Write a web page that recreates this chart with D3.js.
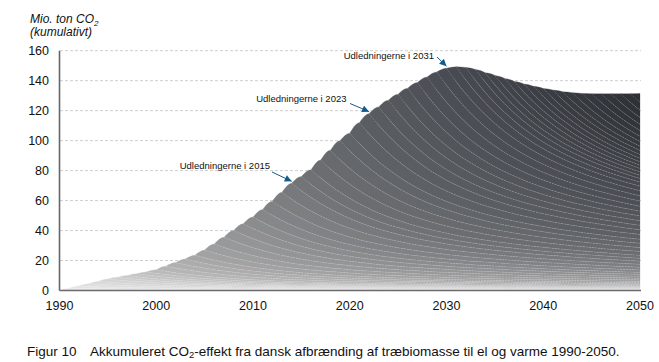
<!DOCTYPE html>
<html>
<head>
<meta charset="utf-8">
<script src="https://cdn.jsdelivr.net/npm/d3@7"></script>
<style>
  body { margin: 0; background: #fff; }
  svg { display: block; font-family: "Liberation Sans", Arial, sans-serif; }
</style>
</head>
<body>
<svg id="chart" width="659" height="362"></svg>
<script>
// years on the x axis
const years = d3.range(1990, 2051);

// top of the stack, mio. ton CO2
const total = [
  0, 1.5, 3, 4.5, 6, 7.6, 8.8, 10, 11.2, 12.4,
  13.8, 16.2, 18.6, 21, 23.5, 27, 31, 35.5, 40, 44.5,
  49, 54, 59.5, 65.5, 71.5, 76, 80.5, 87, 93.5, 100,
  105, 112, 118, 122.5, 127, 131, 135, 138.8, 142.5, 145.8,
  148.3, 149.3, 148.8, 147.5, 145.3, 143.5, 141.5, 139.5, 137.8, 136.2,
  134.8, 133.7, 132.6, 132, 131.5, 131.3, 131.2, 131.2, 131.3, 131.3,
  131.5
];

// share of one year's emission still counted n years later (estimated)
const remaining = [
  1, 0.92, 0.85, 0.785, 0.725, 0.67, 0.62, 0.575, 0.535, 0.5, 0.47,
  0.445, 0.42, 0.4, 0.38, 0.362, 0.346, 0.332, 0.32, 0.308, 0.297,
  0.287, 0.278, 0.27, 0.262, 0.255, 0.248, 0.242, 0.236, 0.23, 0.225,
  0.22, 0.215, 0.21, 0.206, 0.202, 0.198, 0.194, 0.19, 0.186, 0.183,
  0.18, 0.177, 0.174, 0.171, 0.168, 0.165, 0.162, 0.159, 0.157, 0.155,
  0.153, 0.151, 0.149, 0.147, 0.145, 0.143, 0.141, 0.139, 0.137, 0.135
];

const yTicks = [0, 20, 40, 60, 80, 100, 120, 140, 160];
const xTicks = [1990, 2000, 2010, 2020, 2030, 2040, 2050];

const notes = [
  { year: 2015, text: "Udledningerne i 2015", tx: 270, ty: 168.5, sx: 272, sy: 172 },
  { year: 2023, text: "Udledningerne i 2023", tx: 346.5, ty: 102, sx: 350, sy: 103.5 },
  { year: 2031, text: "Udledningerne i 2031", tx: 434, ty: 59, sx: 437, sy: 57 }
];

const svg = d3.select("#chart");

const x = d3.scaleLinear().domain([1990, 2050]).range([59.5, 640]);
const y = d3.scaleLinear().domain([0, 160]).range([290.5, 50.7]);

// new emission per year so that the stack adds up to the total
const emission = [];
years.forEach((t, i) => {
  let carried = 0;
  for (let j = 0; j < i; j++) carried += emission[j] * remaining[i - j];
  emission.push(Math.max(0, total[i] - carried));
});

const rows = years.map((t, i) => {
  const row = { year: t };
  years.forEach((s, j) => {
    row[s] = j <= i ? emission[j] * remaining[i - j] : 0;
  });
  return row;
});

const series = d3.stack().keys(years)(rows);

const color = d3.scaleLinear()
  .domain([1990, 1995, 2000, 2005, 2010, 2015, 2022, 2031, 2050])
  .range(["#eeeeee", "#d4d4d4", "#bababa", "#a2a2a3", "#8b8c8e", "#727477", "#5a5d62", "#474a50", "#2d3035"]);

// dashed grid
svg.append("g")
  .selectAll("line")
  .data(yTicks.filter(d => d > 0))
  .join("line")
    .attr("x1", 60).attr("x2", 641)
    .attr("y1", d => y(d)).attr("y2", d => y(d))
    .attr("stroke", "#cfcfcf")
    .attr("stroke-dasharray", "3 2");

const area = d3.area()
  .x(d => x(d.data.year))
  .y0(d => y(d[0]))
  .y1(d => y(d[1]))
  .curve(d3.curveMonotoneX);

// each layer only from the year before it starts
const layers = series.map(s => {
  const pts = s.filter(d => d.data.year >= s.key - 1);
  pts.key = s.key;
  return pts;
});

svg.append("g")
  .selectAll("path")
  .data(layers)
  .join("path")
    .attr("d", area)
    .attr("fill", d => color(d.key))
    .attr("stroke", d => color(d.key))
    .attr("stroke-width", 0.25);

// thin light line on top of each year's layer
const topLine = d3.line()
  .x(d => x(d.data.year))
  .y(d => y(d[1]))
  .curve(d3.curveMonotoneX);

svg.append("g")
  .selectAll("path")
  .data(layers.slice(0, -1).map(s => s.filter(d => d.data.year >= s.key)))
  .join("path")
    .attr("d", topLine)
    .attr("fill", "none")
    .attr("stroke", "#ffffff")
    .attr("stroke-opacity", 0.32)
    .attr("stroke-width", 0.6)
    .attr("stroke-dasharray", "2 1");

// axes
svg.append("line")
  .attr("x1", 59.5).attr("x2", 59.5)
  .attr("y1", y(160)).attr("y2", y(0))
  .attr("stroke", "#666").attr("stroke-width", 1.6);

svg.append("line")
  .attr("x1", 59.5).attr("x2", 641)
  .attr("y1", y(0)).attr("y2", y(0))
  .attr("stroke", "#6b6b6b").attr("stroke-width", 1.6);

svg.append("g")
  .selectAll("text")
  .data(yTicks)
  .join("text")
    .attr("x", 49)
    .attr("y", d => y(d) + 4.5)
    .attr("text-anchor", "end")
    .attr("font-size", 12.5)
    .attr("fill", "#111")
    .text(d => d);

svg.append("g")
  .selectAll("text")
  .data(xTicks)
  .join("text")
    .attr("x", d => x(d))
    .attr("y", 310)
    .attr("text-anchor", "middle")
    .attr("font-size", 12.5)
    .attr("fill", "#111")
    .text(d => d);

// y axis title
const title = svg.append("text")
  .attr("x", 30).attr("y", 23)
  .attr("font-size", 12)
  .attr("font-style", "italic")
  .attr("fill", "#111");
title.append("tspan").text("Mio. ton CO");
title.append("tspan").attr("font-size", 8).attr("dy", 3).text("2");

svg.append("text")
  .attr("x", 30).attr("y", 36)
  .attr("font-size", 12)
  .attr("font-style", "italic")
  .attr("fill", "#111")
  .text("(kumulativt)");

// annotations
svg.append("defs").append("marker")
  .attr("id", "head")
  .attr("viewBox", "0 0 10 10")
  .attr("refX", 10).attr("refY", 5)
  .attr("markerWidth", 8).attr("markerHeight", 7)
  .attr("markerUnits", "userSpaceOnUse")
  .attr("orient", "auto")
  .append("path")
    .attr("d", "M0,0L10,5L0,10z")
    .attr("fill", "#135a8c");

const noteG = svg.append("g")
  .selectAll("g")
  .data(notes)
  .join("g");

noteG.append("text")
  .attr("x", d => d.tx)
  .attr("y", d => d.ty)
  .attr("text-anchor", "end")
  .attr("font-size", 9.5)
  .attr("fill", "#111")
  .text(d => d.text);

noteG.append("line")
  .attr("x1", d => d.sx)
  .attr("y1", d => d.sy)
  .attr("x2", d => x(d.year - 1))
  .attr("y2", d => y(total[d.year - 1 - 1990]) - 2)
  .attr("stroke", "#135a8c")
  .attr("stroke-width", 1)
  .attr("marker-end", "url(#head)");

// caption
svg.append("text")
  .attr("x", 27).attr("y", 356)
  .attr("font-size", 13.5)
  .attr("fill", "#111")
  .text("Figur 10");

const cap = svg.append("text")
  .attr("x", 90).attr("y", 356)
  .attr("font-size", 13.5)
  .attr("fill", "#111");
cap.append("tspan").text("Akkumuleret CO");
cap.append("tspan").attr("font-size", 9.5).attr("dy", 2).text("2");
cap.append("tspan").attr("dy", -2).text("-effekt fra dansk afbrænding af træbiomasse til el og varme 1990-2050.");
</script>
</body>
</html>
